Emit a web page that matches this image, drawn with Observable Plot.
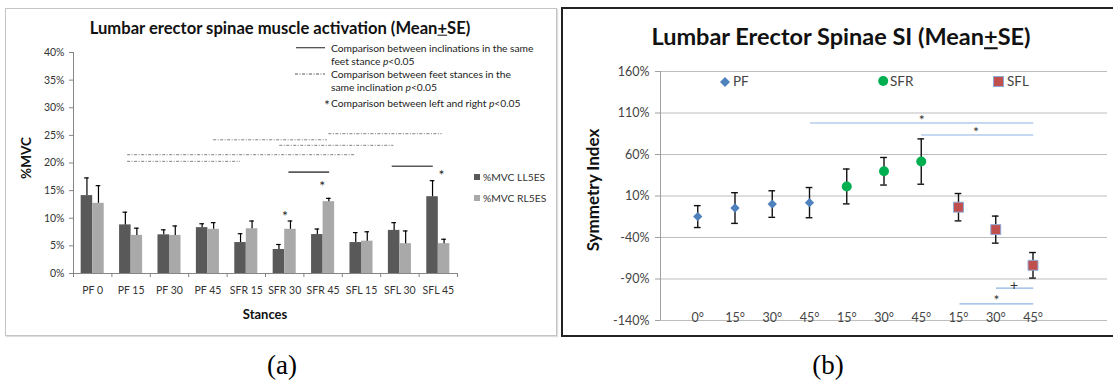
<!DOCTYPE html>
<html>
<head>
<meta charset="utf-8">
<script src="https://cdn.jsdelivr.net/npm/d3@7"></script>
<script src="https://cdn.jsdelivr.net/npm/@observablehq/plot@0.6"></script>
<style>
  body { margin: 0; background: #fff; }
  #root { position: relative; width: 1113px; height: 390px; overflow: hidden; background: #fff; font-family: Lato, "Open Sans", sans-serif; }
  .abs { position: absolute; white-space: nowrap; line-height: 1; }
  .box { position: absolute; box-sizing: border-box; }
  svg.plotsvg { position: absolute; overflow: visible; }
</style>
</head>
<body>
<div id="root"></div>
<script>
// ---------- Panel (a) data ----------
const stances = ["PF 0","PF 15","PF 30","PF 45","SFR 15","SFR 30","SFR 45","SFL 15","SFL 30","SFL 45"];
const ll5esMean = [14.1, 8.8, 7.0, 8.3, 5.6, 4.35, 7.05, 5.6, 7.8, 13.9];
const ll5esSE   = [3.2, 2.3, 0.9, 0.7, 1.6, 0.9, 1.0, 1.8, 1.4, 2.9];
const rl5esMean = [12.7, 6.9, 6.9, 8.0, 8.1, 8.0, 13.0, 5.85, 5.4, 5.4];
const rl5esSE   = [3.2, 1.3, 1.7, 1.2, 1.4, 1.5, 0.6, 1.7, 2.3, 0.8];
const mvcTicks  = [0, 5, 10, 15, 20, 25, 30, 35, 40];
// significance lines (x in stance-index units, y in %MVC)
const stanceLineX1 = [6.15, 3.15, 4.87, 0.91, 0.91];
const stanceLineX2 = [9.10, 6.11, 7.84, 6.84, 3.85];
const stanceLineY  = [25.3, 24.2, 23.2, 21.5, 20.3];
const inclLineX1 = [5.11, 7.80];
const inclLineX2 = [6.17, 8.87];
const inclLineY  = [18.35, 19.4];
const sideStarX = [5.01, 5.98, 9.08];
const sideStarY = [10.4, 15.8, 17.7];

// ---------- Panel (b) data ----------
const siLabels = ["0°","15°","30°","45°","15°","30°","45°","15°","30°","45°"];
const pfSI  = [-14.8, -4.5, 0.3, 2.0];
const pfSE  = [13.2, 18.5, 16.0, 18.2];
const sfrSI = [21.5, 39.8, 51.5];
const sfrSE = [21.0, 16.6, 27.3];
const sflSI = [-3.5, -30.5, -73.5];
const sflSE = [16.5, 16.3, 15.4];
const siTicks = [-140, -90, -40, 10, 60, 110, 160];
const sigX1 = [4.03, 7.01, 9.02, 8.04];
const sigX2 = [10.02, 10.02, 10.02, 10.02];
const sigY  = [98, 83.5, -101, -120];
const sigMark = ["*", "*", "+", "*"];
const sigMarkX = [7.01, 8.47, 9.49, 9.02];
const sigMarkY = [101.5, 87, -97.5, -116];

const root = document.getElementById("root");

function addText(html, x, y, o = {}) {
  const d = document.createElement("div");
  d.className = "abs";
  d.innerHTML = html;
  d.style.left = x + "px";
  d.style.top = y + "px";
  d.style.fontSize = (o.size || 11) + "px";
  d.style.fontWeight = o.weight || 400;
  d.style.fontFamily = o.family || "Lato, sans-serif";
  d.style.color = o.color || "#222";
  if (o.ls != null) d.style.letterSpacing = o.ls + "px";
  const tx = o.anchor === "middle" ? "-50%" : o.anchor === "end" ? "-100%" : "0";
  d.style.transform = `translate(${tx},-50%)` + (o.rotate ? ` rotate(${o.rotate}deg)` : "");
  root.appendChild(d);
  return d;
}
function addBox(x, y, w, h, css) {
  const d = document.createElement("div");
  d.className = "box";
  d.style.left = x + "px"; d.style.top = y + "px";
  d.style.width = w + "px"; d.style.height = h + "px";
  Object.assign(d.style, css);
  root.appendChild(d);
  return d;
}
function addSvg(x, y, w, h, inner) {
  const d = document.createElement("div");
  d.style.position = "absolute";
  d.style.left = x + "px"; d.style.top = y + "px";
  d.innerHTML = `<svg width="${w}" height="${h}" style="display:block;overflow:visible">${inner}</svg>`;
  root.appendChild(d);
}
function place(svg, x, y) {
  svg.classList.add("plotsvg");
  svg.style.left = x + "px";
  svg.style.top = y + "px";
  root.appendChild(svg);
}

// ---------- Panel (a) ----------
addBox(5, 8, 552, 328, {border: "1px solid #c4c4c4", boxShadow: "1px 1px 1px #dedede"});

const rowsA = stances.map((s, i) => ({i, s, ll: ll5esMean[i], llse: ll5esSE[i], rl: rl5esMean[i], rlse: rl5esSE[i]}));
const stanceLines = stanceLineY.map((y, k) => ({x1: stanceLineX1[k], x2: stanceLineX2[k], y}));
const inclLines = inclLineY.map((y, k) => ({x1: inclLineX1[k], x2: inclLineX2[k], y}));
const sideStars = sideStarX.map((x, k) => ({x, y: sideStarY[k]}));
const bw = 0.3, capA = 0.06;

const plotA = Plot.plot({
  width: 551, height: 327,
  marginLeft: 68, marginRight: 99, marginTop: 44, marginBottom: 62,
  x: {domain: [-0.5, 9.5], label: null},
  y: {domain: [0, 40], label: null},
  style: {fontFamily: "Lato, sans-serif", fontSize: "10px", color: "#333", background: "transparent", overflow: "visible"},
  marks: [
    Plot.rect(rowsA, {x1: d => d.i - bw, x2: d => d.i, y1: 0, y2: "ll", fill: "#595959"}),
    Plot.rect(rowsA, {x1: d => d.i, x2: d => d.i + bw, y1: 0, y2: "rl", fill: "#a9a9a9"}),
    Plot.ruleX(rowsA, {x: d => d.i - bw / 2, y1: "ll", y2: d => d.ll + d.llse, stroke: "#000", strokeWidth: 1.2}),
    Plot.ruleY(rowsA, {y: d => d.ll + d.llse, x1: d => d.i - bw / 2 - capA, x2: d => d.i - bw / 2 + capA, stroke: "#000", strokeWidth: 1.2}),
    Plot.ruleX(rowsA, {x: d => d.i + bw / 2, y1: "rl", y2: d => d.rl + d.rlse, stroke: "#000", strokeWidth: 1.2}),
    Plot.ruleY(rowsA, {y: d => d.rl + d.rlse, x1: d => d.i + bw / 2 - capA, x2: d => d.i + bw / 2 + capA, stroke: "#000", strokeWidth: 1.2}),
    Plot.ruleX([-0.5], {stroke: "#868686"}),
    Plot.ruleY([0], {stroke: "#868686"}),
    Plot.axisY({ticks: mvcTicks, tickFormat: d => d + "%", tickSize: 4, tickPadding: 5, stroke: "#868686", fontSize: 10.5, label: null}),
    Plot.axisX({ticks: d3.range(-0.5, 10, 1), tickSize: 4, tickFormat: () => "", stroke: "#868686", label: null}),
    Plot.axisX({ticks: d3.range(0, 10), tickSize: 0, tickPadding: 13, tickFormat: i => stances[i], fontSize: 10.5, label: null}),
    Plot.ruleY(stanceLines, {x1: "x1", x2: "x2", y: "y", stroke: "#808080", strokeWidth: 1, strokeDasharray: "3,1.5,1,1.5"}),
    Plot.ruleY(inclLines, {x1: "x1", x2: "x2", y: "y", stroke: "#5a5a5a", strokeWidth: 1.6}),
    Plot.text(sideStars, {x: "x", y: "y", text: () => "*", fontSize: 14, fill: "#222"})
  ]
});
place(plotA, 5, 8);

addText("Lumbar erector spinae muscle activation (Mean<u>+</u>SE)", 280, 28, {size: 16.6, weight: 700, anchor: "middle", color: "#111"});
addText("%MVC", 27, 158, {size: 13.5, weight: 700, anchor: "middle", rotate: -90, color: "#111"});
addText("Stances", 265, 314, {size: 13, weight: 700, anchor: "middle", color: "#111"});

// significance legend
addSvg(295, 40, 32, 70,
  `<line x1="1" x2="30" y1="7.7" y2="7.7" stroke="#444" stroke-width="1.2"/>
   <line x1="0" x2="30" y1="34" y2="34" stroke="#555" stroke-width="1" stroke-dasharray="3,1.5,1,1.5"/>`);
const legOpt = {size: 10.3, color: "#222", ls: -0.05};
addText("Comparison between inclinations in the same", 331, 47.7, legOpt);
addText("feet stance <i>p</i>&lt;0.05", 331, 60.5, legOpt);
addText("Comparison between feet stances in the", 331, 73.5, legOpt);
addText("same inclination <i>p</i>&lt;0.05", 331, 87, legOpt);
addText("*", 327, 105, {size: 13, anchor: "middle", color: "#222"});
addText("Comparison between left and right <i>p</i>&lt;0.05", 331, 102.7, legOpt);

// bar legend
addBox(474, 174.3, 6, 6, {background: "#595959"});
addBox(474, 194.7, 6, 6, {background: "#a9a9a9"});
addText("%MVC LL5ES", 483, 177.3, {size: 10.3, color: "#333"});
addText("%MVC RL5ES", 483, 197.7, {size: 10.3, color: "#333"});

// ---------- Panel (b) ----------
addBox(561, 6.5, 560, 330, {borderTop: "2px solid #222", borderLeft: "2px solid #222", borderBottom: "2px solid #222"});

const pfRows  = pfSI.map((v, k) => ({x: 1 + k, v, se: pfSE[k]}));
const sfrRows = sfrSI.map((v, k) => ({x: 5 + k, v, se: sfrSE[k]}));
const sflRows = sflSI.map((v, k) => ({x: 8 + k, v, se: sflSE[k]}));
const allRows = [...pfRows, ...sfrRows, ...sflRows];
const sigRows = sigY.map((y, k) => ({x1: sigX1[k], x2: sigX2[k], y, m: sigMark[k], mx: sigMarkX[k], my: sigMarkY[k]}));
const capB = 0.09;

const plotB = Plot.plot({
  width: 550, height: 327,
  marginLeft: 98, marginRight: 5, marginTop: 63, marginBottom: 15,
  x: {domain: [0, 12], label: null},
  y: {domain: [-140, 160], label: null},
  style: {fontFamily: "Lato, sans-serif", fontSize: "12px", color: "#444", background: "transparent", overflow: "visible"},
  marks: [
    Plot.gridY({ticks: siTicks, stroke: "#bdbdbd", strokeOpacity: 1, strokeWidth: 1.2}),
    Plot.ruleX([0], {stroke: "#a0a0a0"}),
    Plot.axisY({ticks: siTicks, tickFormat: d => d + "%", tickSize: 5, tickPadding: 6, stroke: "#a0a0a0", fontSize: 12.5, label: null}),
    Plot.axisX({ticks: d3.range(1, 11), tickSize: 0, tickPadding: 0, dy: -7, tickFormat: i => siLabels[i - 1], fontSize: 12.5, label: null}),
    Plot.ruleY(sigRows, {x1: "x1", x2: "x2", y: "y", stroke: "#8db4e2", strokeWidth: 1.1}),
    Plot.text(sigRows, {x: "mx", y: "my", text: "m", fontSize: 14, fill: "#333"}),
    Plot.ruleX(allRows, {x: "x", y1: d => d.v - d.se, y2: d => d.v + d.se, stroke: "#111", strokeWidth: 1.4}),
    Plot.ruleY(allRows, {y: d => d.v + d.se, x1: d => d.x - capB, x2: d => d.x + capB, stroke: "#111", strokeWidth: 1.4}),
    Plot.ruleY(allRows, {y: d => d.v - d.se, x1: d => d.x - capB, x2: d => d.x + capB, stroke: "#111", strokeWidth: 1.4}),
    Plot.dot(pfRows, {x: "x", y: "v", symbol: "diamond2", r: 4.2, fill: "#4f81bd", stroke: "none"}),
    Plot.dot(sfrRows, {x: "x", y: "v", symbol: "circle", r: 5, fill: "#00b050", stroke: "none"}),
    Plot.dot(sflRows, {x: "x", y: "v", symbol: "square", r: 5.6, fill: "#c0504d", stroke: "#8ea9d6", strokeWidth: 1})
  ]
});
place(plotB, 562, 8);

addText("Lumbar Erector Spinae SI (Mean<u>+</u>SE)", 841, 37, {size: 23.5, weight: 700, anchor: "middle", color: "#111"});
addText("Symmetry Index", 592, 190, {size: 17, weight: 700, anchor: "middle", rotate: -90, color: "#111"});

// legend (b)
addSvg(719, 76, 12, 12, `<path d="M6,1 L11,6 L6,11 L1,6 Z" fill="#4f81bd"/>`);
addText("PF", 733, 82, {size: 13.5, color: "#444"});
addSvg(877.7, 76, 11, 11, `<circle cx="5.2" cy="5" r="5" fill="#00b050"/>`);
addText("SFR", 890, 81.5, {size: 13.5, color: "#444"});
addSvg(993, 76, 11, 11, `<rect x="0.5" y="0.5" width="10" height="10" fill="#c0504d" stroke="#8ea9d6"/>`);
addText("SFL", 1007, 81.5, {size: 13.5, color: "#444"});

// captions
addText("(a)", 282, 365, {size: 27, family: "'Liberation Serif', serif", anchor: "middle", color: "#000"});
addText("(b)", 828, 365, {size: 27, family: "'Liberation Serif', serif", anchor: "middle", color: "#000"});
</script>
</body>
</html>
